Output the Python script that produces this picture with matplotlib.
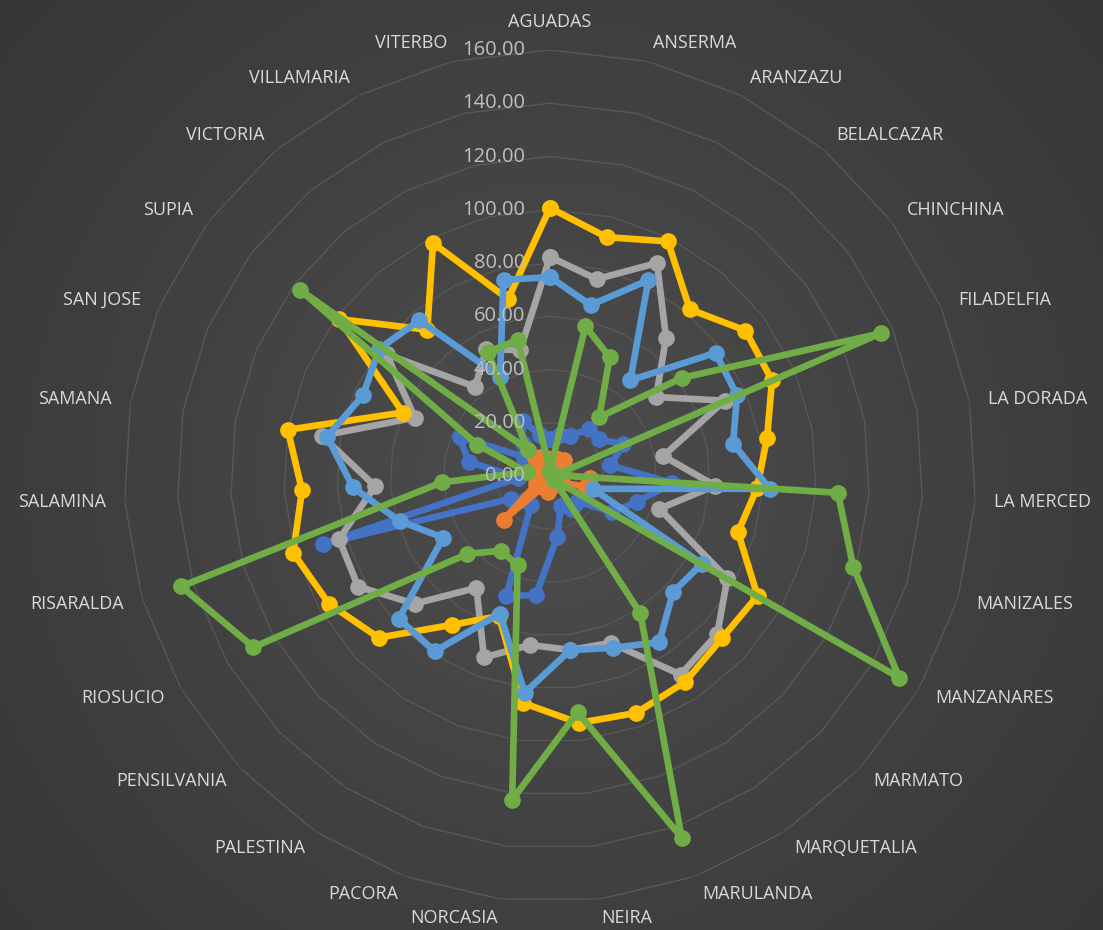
import numpy as np
import matplotlib
matplotlib.use("Agg")
import matplotlib.pyplot as plt
from matplotlib.transforms import offset_copy

categories = ["AGUADAS", "ANSERMA", "ARANZAZU", "BELALCAZAR", "CHINCHINA", "FILADELFIA",
              "LA DORADA", "LA MERCED", "MANIZALES", "MANZANARES", "MARMATO", "MARQUETALIA",
              "MARULANDA", "NEIRA", "NORCASIA", "PACORA", "PALESTINA", "PENSILVANIA",
              "RIOSUCIO", "RISARALDA", "SALAMINA", "SAMANA", "SAN JOSE", "SUPIA",
              "VICTORIA", "VILLAMARIA", "VITERBO"]

serie_azul = [14, 16, 17, 23, 23, 30, 23, 46, 34, 27, 14, 15, 12, 23, 45, 48, 13, 13,
              17, 89, 12, 31, 37, 12, 16, 23, 16]
serie_naranja = [5, 6, 7, 8, 6, 4, 4, 15, 14, 5, 4, 3, 3, 4, 6, 4, 5, 24,
                 6, 5, 4, 3, 4, 5, 9, 8, 7]
serie_gris = [82.3, 76, 89.5, 67.8, 49.7, 71.4, 43.2, 62.1, 42.9, 76.9, 86.4, 89.3, 66.7, 65.8,
              63.9, 72.5, 50.3, 69.9, 83.2, 82.7, 65.8, 87, 55.3, 76.5, 43.7, 53.3, 48.6]
serie_amarilla = [100.7, 92.2, 98.6, 81.7, 91.5, 90.8, 82.8, 77.9, 73.7, 90, 88.8, 92.5, 94.7, 93.4,
                  85.9, 56, 66.9, 88.5, 95.9, 100.7, 93.3, 100, 60.2, 98.7, 71.7, 97.9, 68.3]
serie_celeste = [74.7, 66, 82.3, 46.9, 77.5, 76.5, 69.8, 82.7, 16.8, 65.9, 63.5, 74.7, 68.7, 65.8,
                 82, 55, 78.8, 78.1, 46.3, 59, 74.1, 85, 76.5, 80, 76.3, 41.8, 75.7]
serie_verde = [2, 57.8, 49.9, 28.8, 61.7, 135.2, 2, 108.3, 118.9, 151.4, 2, 61.8, 144.6, 89.3,
               122.5, 35.6, 33.6, 42.6, 128.6, 144.6, 40.6, 8.9, 29.7, 117.1, 12.8, 52.1, 52.5]

series = [serie_azul, serie_naranja, serie_gris, serie_amarilla, serie_celeste, serie_verde]
colors = ["#4472C4", "#ED7D31", "#A5A5A5", "#FFC000", "#5B9BD5", "#70AD47"]
ticks = [0, 20, 40, 60, 80, 100, 120, 140, 160]

W, H = 1103, 930
fig = plt.figure(figsize=(W / 100, H / 100), dpi=100)
fig.patch.set_facecolor("#404040")

# background radial gradient
bg = fig.add_axes([0, 0, 1, 1], zorder=-10)
yy, xx = np.mgrid[0:H, 0:W]
d = np.sqrt(((xx - 550) / 720.0) ** 2 + ((yy - 476) / 720.0) ** 2)
d = np.clip(d, 0, 1)
c0 = np.array([0x4d, 0x4d, 0x4d]) / 255.0
c1 = np.array([0x37, 0x37, 0x37]) / 255.0
img = c0[None, None, :] * (1 - d[..., None]) + c1[None, None, :] * d[..., None]
bg.imshow(img, aspect="auto", extent=[0, 1, 0, 1])
bg.axis("off")

cx, cy, R = 550, 476, 426
ax = fig.add_axes([(cx - R) / W, (H - cy - R) / H, 2 * R / W, 2 * R / H], projection="polar")
ax.set_facecolor("none")
ax.set_theta_zero_location("N")
ax.set_theta_direction(-1)
ax.set_ylim(0, 160)
ax.grid(False)
ax.spines["polar"].set_visible(False)
ax.set_xticks([])
ax.set_yticks([])

n = len(categories)
theta = np.arange(n) * 2 * np.pi / n
theta_c = np.append(theta, theta[0])

for t in ticks[1:]:
    ax.plot(theta_c, [t] * (n + 1), color="#585858", lw=1.0, zorder=1)

for vals, col in zip(series, colors):
    v = np.append(vals, vals[0])
    ax.plot(theta_c, v, color=col, lw=4.8, marker="o", markersize=11,
            markeredgecolor=col, solid_joinstyle="round", zorder=3, clip_on=False)

# radial tick labels
tr = offset_copy(ax.transData, fig=fig, x=-25, y=0, units="dots")
for t in ticks:
    ax.text(0, t, f"{t:.2f}", transform=tr, ha="right", va="center",
            fontsize=14.5, color="#BFBFBF", family="Open Sans", zorder=5)

# category labels
r_lab = 167.1
for ang, name in zip(theta, categories):
    s, c = np.sin(ang), np.cos(ang)
    if abs(s) < 1e-6:
        ha, va = "center", ("bottom" if c > 0 else "top")
    else:
        ha, va = ("left" if s > 0 else "right"), "center"
    ax.text(ang, r_lab, name, ha=ha, va=va, fontsize=13, color="#D9D9D9",
            family="Open Sans", clip_on=False)

fig.savefig("out.png", dpi=100, facecolor=fig.get_facecolor())
